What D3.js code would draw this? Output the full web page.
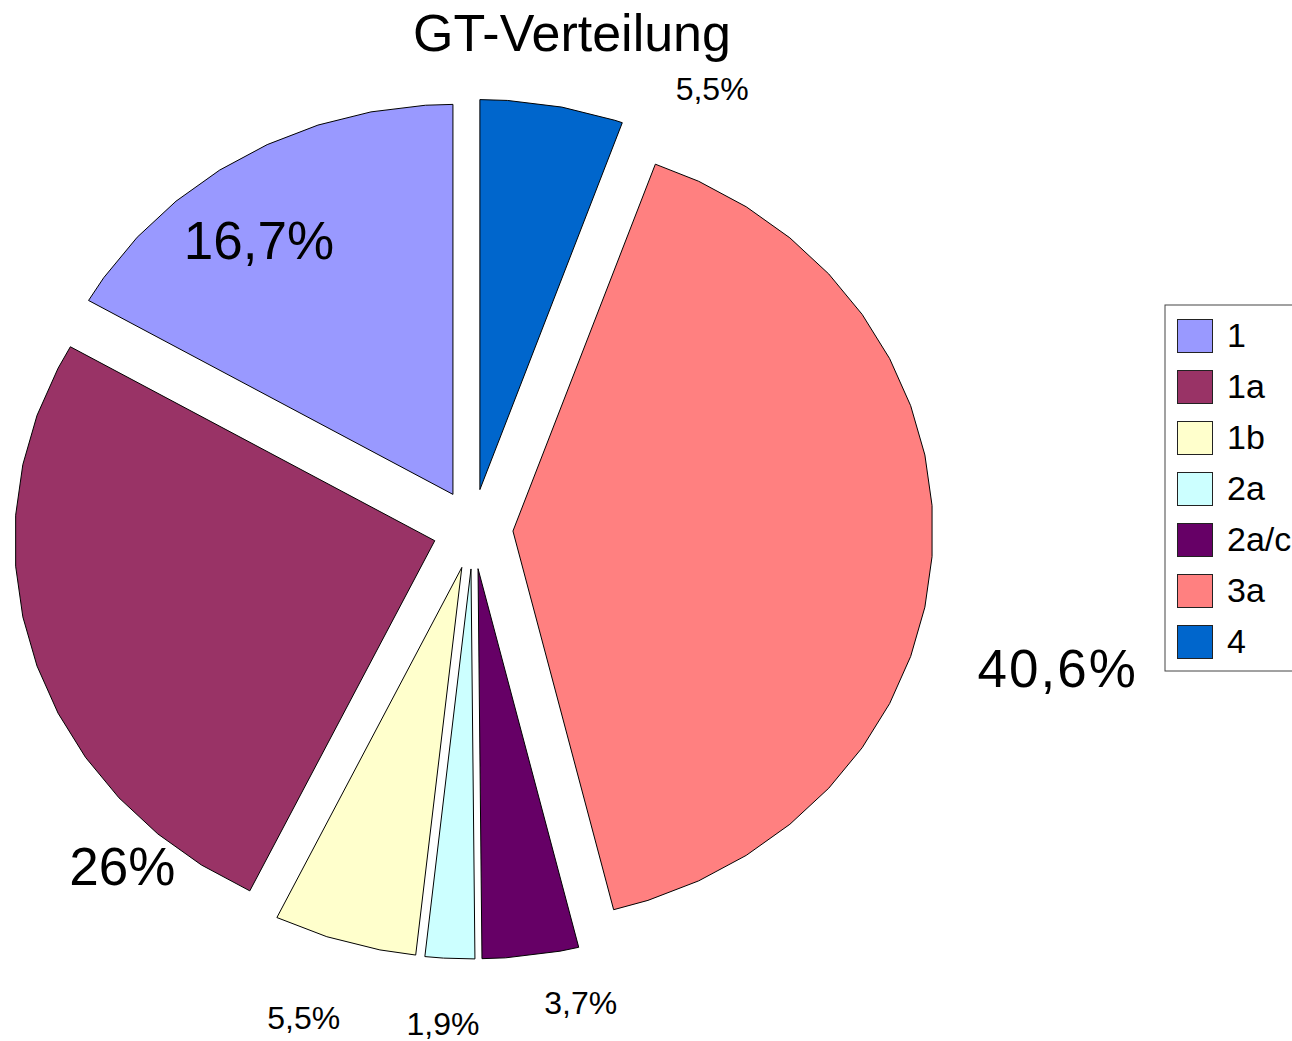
<!DOCTYPE html>
<html>
<head>
<meta charset="UTF-8">
<title>GT-Verteilung</title>
<script src="https://d3js.org/d3.v7.min.js"></script>
<style>
    body {margin: 0; background: white;}
    text {font-family: "Liberation Sans", Arial, Helvetica, sans-serif; fill: black;}
    .slice {stroke: black; stroke-width: 1;}
</style>
</head>
<body>
<div id="chart"></div>
<script>
    // legend order
    var genotypes = ["1", "1a", "1b", "2a", "2a/c", "3a", "4"];
    var percents  = [16.7, 26, 5.5, 1.9, 3.7, 40.6, 5.5];
    var colors    = ["#9999ff", "#993366", "#ffffcc", "#ccffff", "#660066", "#ff8080", "#0066cc"];

    // label placement (angle nudge in degrees, distance from centre)
    var labelNudge = [-6.4, -26.8, 2.9, 0.6, -5.6, 10.4, 18.6];
    var labelDist  = [360, 486, 517, 495, 486, 601, 501];

    var width = 1292, height = 1041;
    var cx = 473, cy = 529,
        rx = 420, ry = 390,
        explode = 40,
        step = 7.5;

    var fmt = d3.formatLocale({decimal: ",", thousands: ".", grouping: [3], currency: ["", "€"]}).format(".1~f");

    var svg = d3.select("#chart").append("svg")
        .attr("width", width)
        .attr("height", height);

    var rows = genotypes.map(function(g, i) {
        return {name: g, value: percents[i], color: colors[i], nudge: labelNudge[i], dist: labelDist[i]};
    });

    // pie runs clockwise from the top in reverse legend order
    var pie = d3.pie().sort(null).value(function(d) { return d.value; });
    var arcs = pie(rows.slice().reverse());

    var rad = Math.PI / 180;

    function slicePoints(a) {
        var mid = (a.startAngle + a.endAngle) / 2;
        var ox = cx + explode * Math.sin(mid),
            oy = cy - explode * Math.cos(mid);
        var s = a.startAngle / rad, e = a.endAngle / rad;
        var angs = [s];
        var k = Math.ceil((s - step / 2) / step);
        for (var g = k * step + step / 2; g < e; g += step) {
            if (g > s + 0.3 && g < e - 0.3) angs.push(g);
        }
        angs.push(e);
        var pts = [[ox, oy]];
        angs.forEach(function(t) {
            pts.push([ox + rx * Math.sin(t * rad), oy - ry * Math.cos(t * rad)]);
        });
        return pts;
    }

    var line = d3.line().curve(d3.curveLinearClosed);

    svg.append("g").selectAll("path")
        .data(arcs)
        .enter().append("path")
        .attr("class", "slice")
        .attr("fill", function(d) { return d.data.color; })
        .attr("d", function(d) { return line(slicePoints(d)); });

    svg.append("g").selectAll("text")
        .data(arcs)
        .enter().append("text")
        .attr("text-anchor", "middle")
        .attr("dy", "0.36em")
        .style("font-size", function(d) { return d.data.value >= 10 ? "53px" : "32px"; })
        .style("letter-spacing", function(d) { return d.data.value >= 40 ? "2px" : null; })
        .attr("x", function(d) {
            var t = (d.startAngle + d.endAngle) / 2 + d.data.nudge * rad;
            return cx + d.data.dist * Math.sin(t);
        })
        .attr("y", function(d) {
            var t = (d.startAngle + d.endAngle) / 2 + d.data.nudge * rad;
            return cy - d.data.dist * Math.cos(t);
        })
        .text(function(d) { return fmt(d.data.value) + "%"; });

    // title
    svg.append("text")
        .attr("x", 572)
        .attr("y", 51)
        .attr("text-anchor", "middle")
        .style("font-size", "52px")
        .text("GT-Verteilung");

    // legend
    var legend = svg.append("g").attr("transform", "translate(1165,305)");
    legend.append("rect")
        .attr("width", 150)
        .attr("height", 366)
        .attr("fill", "white")
        .attr("stroke", "#444")
        .attr("stroke-width", 1);

    var y = d3.scaleBand().domain(genotypes).range([0, 357]).paddingInner(0);

    var item = legend.selectAll(".item")
        .data(rows)
        .enter().append("g")
        .attr("class", "item")
        .attr("transform", function(d) { return "translate(0," + (y(d.name) + 14) + ")"; });

    item.append("rect")
        .attr("x", 12.5)
        .attr("y", 0.5)
        .attr("width", 35)
        .attr("height", 33)
        .attr("fill", function(d) { return d.color; })
        .attr("stroke", "#222")
        .attr("stroke-width", 1);

    item.append("text")
        .attr("x", 62)
        .attr("y", 28)
        .style("font-size", "34px")
        .text(function(d) { return d.name; });
</script>
</body>
</html>
